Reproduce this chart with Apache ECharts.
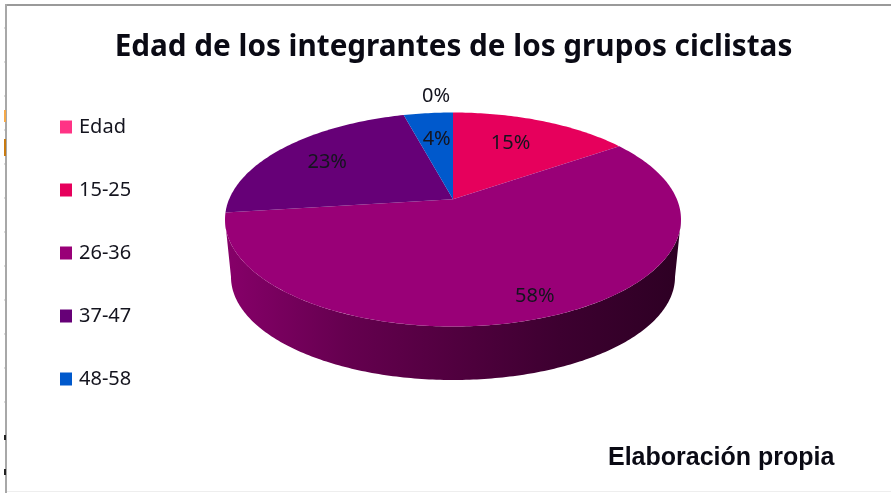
<!DOCTYPE html>
<html>
<head>
<meta charset="utf-8">
<title>Edad de los integrantes de los grupos ciclistas</title>
<style>
  html, body { margin: 0; padding: 0; background: #fff; }
  #chart { width: 891px; height: 493px; }
</style>
<script src="https://cdn.jsdelivr.net/npm/echarts@6/dist/echarts.min.js"></script>
</head>
<body>
<div id="chart"></div>
<script>
// datos
const categories = ['Edad', '15-25', '26-36', '37-47', '48-58'];
const shares = [0, 15.4, 57.6, 22.8, 4.2];
const colors = ['#ff3385', '#e6005c', '#990077', '#660077', '#0059cc'];

// geometria de la tarta en perspectiva
const top3d = { cx: 453, cy: 219.5, rx: 228, ry: 107 };
const base3d = { cx: 453, cy: 277, rx: 222, ry: 103 };
const tilt = 0.19; // el vertice queda por encima del centro de la elipse

// radio relativo de cada etiqueta y ajuste fino en pixeles
const labelRadius = [1, 0.68, 0.85, 0.71, 0.66];
const labelNudge = [[-17, -16], [-6, 0], [2, 1], [-3, 1], [1, 0]];

const sideStops = [[0, 0.87], [0.26, 0.66], [0.5, 0.53], [0.74, 0.4], [1, 0.3]];

const total = shares.reduce((a, b) => a + b, 0);
const starts = [];
shares.reduce((acc, v, i) => {
  starts[i] = acc;
  return acc + v;
}, 0);

const toAngle = (v) => (v / total) * Math.PI * 2;

// angulo de la tarta (horario desde arriba) -> punto de la elipse superior
function project(theta, r) {
  const u = r * Math.sin(theta);
  const v = r * Math.cos(theta);
  const d = 1 + tilt * v;
  const k = Math.sqrt(1 - tilt * tilt);
  return [top3d.cx + top3d.rx * (u * k) / d, top3d.cy - top3d.ry * (v + tilt) / d];
}

// mismo borde pero como angulo de la elipse, para saber que parte se ve de frente
function ellipseAngle(theta) {
  const p = project(theta, 1);
  const a = Math.atan2((p[0] - top3d.cx) / top3d.rx, (top3d.cy - p[1]) / top3d.ry);
  return a < 0 ? a + Math.PI * 2 : a;
}

function shade(hex, f) {
  const n = parseInt(hex.slice(1), 16);
  const c = [(n >> 16) & 255, (n >> 8) & 255, n & 255].map((x) => Math.round(x * f));
  return 'rgb(' + c.join(',') + ')';
}

function sliceTop(a0, a1) {
  const pts = [project(0, 0)];
  const steps = Math.max(2, Math.ceil((a1 - a0) * 60));
  for (let s = 0; s <= steps; s++) {
    pts.push(project(a0 + ((a1 - a0) * s) / steps, 1));
  }
  return pts;
}

function sliceSide(a0, a1) {
  // solo el tramo delantero (90 a 270 grados en la elipse) tiene pared visible
  const from = Math.max(ellipseAngle(a0), Math.PI / 2);
  const to = Math.min(a1 >= Math.PI * 2 ? Math.PI * 2 : ellipseAngle(a1), (Math.PI * 3) / 2);
  if (to <= from) return null;
  const upper = [];
  const lower = [];
  const steps = Math.ceil((to - from) * 60);
  for (let s = 0; s <= steps; s++) {
    const a = from + ((to - from) * s) / steps;
    upper.push([top3d.cx + top3d.rx * Math.sin(a), top3d.cy - top3d.ry * Math.cos(a)]);
    lower.push([base3d.cx + base3d.rx * Math.sin(a), base3d.cy - base3d.ry * Math.cos(a)]);
  }
  return upper.concat(lower.reverse());
}

function renderSlice(i) {
  return function (params, api) {
    const value = api.value(0);
    const a0 = toAngle(starts[i]);
    const a1 = a0 + toAngle(value);
    const mid = (a0 + a1) / 2;
    const children = [];

    const side = sliceSide(a0, a1);
    if (side) {
      children.push({
        type: 'polygon',
        shape: { points: side },
        style: {
          fill: new echarts.graphic.LinearGradient(
            base3d.cx - base3d.rx, 0, base3d.cx + base3d.rx, 0,
            sideStops.map((s) => ({ offset: s[0], color: shade(colors[i], s[1]) })),
            true
          )
        }
      });
    }

    if (value > 0) {
      children.push({
        type: 'polygon',
        shape: { points: sliceTop(a0, a1) },
        style: { fill: colors[i] }
      });
    }

    const pos = project(mid, labelRadius[i]);
    children.push({
      type: 'text',
      z2: 10,
      style: {
        x: pos[0] + labelNudge[i][0],
        y: pos[1] + labelNudge[i][1],
        text: Math.round((value / total) * 100) + '%',
        fill: '#14141e',
        font: '20px "Noto Sans"',
        align: 'center',
        verticalAlign: 'middle'
      }
    });
    return { type: 'group', children };
  };
}

// marquitas casi invisibles a la izquierda del marco
const frameTicks = [];
for (let y = 27; y < 490; y += 34) {
  frameTicks.push({ type: 'rect', shape: { x: 4, y, width: 1, height: 2 }, style: { fill: '#dddddd' } });
}

const myChart = echarts.init(document.getElementById('chart'), null, { renderer: 'canvas' });

myChart.setOption({
  animation: false,
  backgroundColor: '#fff',
  color: colors,
  title: [
    {
      text: 'Edad de los integrantes de los grupos ciclistas',
      left: 448.5,
      top: 28,
      textAlign: 'center',
      textStyle: { fontFamily: 'Noto Sans', fontWeight: 'bold', fontSize: 29.7, color: '#0a0a14' }
    },
    {
      text: 'Elaboración propia',
      left: 603,
      top: 441,
      textStyle: { fontFamily: 'Liberation Sans', fontWeight: 'bold', fontSize: 25, color: '#0a0a14' }
    }
  ],
  legend: {
    orient: 'vertical',
    left: 60,
    top: 117,
    icon: 'rect',
    itemWidth: 12,
    itemHeight: 13,
    itemGap: 43,
    data: categories,
    textStyle: { fontFamily: 'Noto Sans', fontSize: 20, lineHeight: 20, padding: [0, 0, 0, 2], color: '#14141e' },
    padding: 0
  },
  series: categories.map((name, i) => ({
    type: 'custom',
    name,
    coordinateSystem: 'none',
    silent: true,
    renderItem: renderSlice(i),
    data: [[shares[i]]]
  })),
  graphic: frameTicks.concat([
    // marco gris de la captura
    { type: 'rect', shape: { x: 5, y: 4, width: 886, height: 2 }, style: { fill: '#9a9a9a' } },
    { type: 'rect', shape: { x: 5, y: 4, width: 2, height: 489 }, style: { fill: '#a8a8a8' } },
    { type: 'rect', shape: { x: 7, y: 491, width: 884, height: 1 }, style: { fill: '#eeeeee' } },
    { type: 'rect', shape: { x: 4, y: 110, width: 2, height: 12 }, style: { fill: '#f5a94a' } },
    { type: 'rect', shape: { x: 4, y: 139, width: 2, height: 17 }, style: { fill: '#c87a10' } },
    { type: 'rect', shape: { x: 4, y: 435, width: 2, height: 5 }, style: { fill: '#222' } },
    { type: 'rect', shape: { x: 4, y: 469, width: 2, height: 6 }, style: { fill: '#222' } }
  ])
});

window.addEventListener('resize', () => { myChart.resize(); });
</script>
</body>
</html>
